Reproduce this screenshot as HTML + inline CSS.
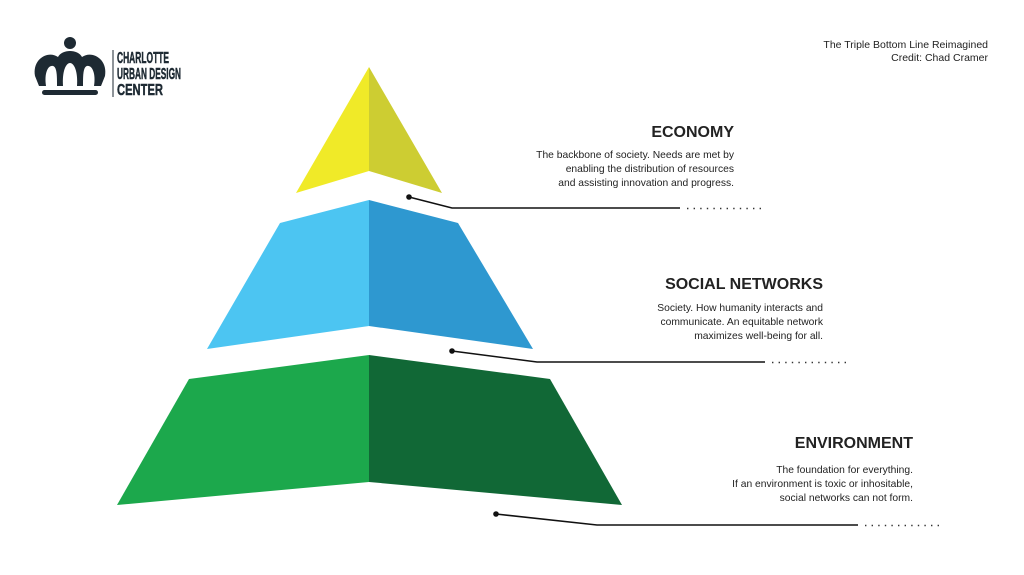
<!DOCTYPE html>
<html><head><meta charset="utf-8"><style>
html,body{margin:0;padding:0;background:#fff;}
svg{display:block;}
text{font-family:"Liberation Sans",sans-serif;fill:#222;}
.h{font-weight:bold;font-size:16px;}
.b{font-size:10.3px;}
.t{font-size:10.5px;}
.lg{font-family:"Liberation Sans Narrow","Liberation Sans",sans-serif;font-weight:bold;font-size:16px;fill:#1e2a33;stroke:#1e2a33;stroke-width:0.5;}
</style></head><body>
<svg width="1024" height="575" viewBox="0 0 1024 575" xmlns="http://www.w3.org/2000/svg">
<rect width="1024" height="575" fill="#fff"/>
<!-- logo -->
<circle cx="70" cy="43" r="6" fill="#1e2a33"/>
<path d="M35,76 C32,59 48,50 58,57 C62,49 78,49 82,57 C92,50 108,59 105,76 L101,86 L39,86 Z" fill="#1e2a33"/>
<path d="M63,86 C62,71 66,63 70,63 C74,63 78,71 77,86 Z" fill="#fff"/>
<path d="M46,86 C44,73 48,65 53,66 C57,67 57,76 57,86 Z" fill="#fff"/>
<path d="M94,86 C96,73 92,65 87,66 C83,67 83,76 83,86 Z" fill="#fff"/>
<rect x="42" y="90" width="56" height="5" rx="2.5" fill="#1e2a33"/>
<line x1="113" y1="50" x2="113" y2="97" stroke="#1e2a33" stroke-width="1"/>
<text class="lg" x="117" y="63" textLength="52" lengthAdjust="spacingAndGlyphs">CHARLOTTE</text>
<text class="lg" x="117" y="79" textLength="64" lengthAdjust="spacingAndGlyphs">URBAN DESIGN</text>
<text class="lg" x="117" y="95" textLength="46" lengthAdjust="spacingAndGlyphs">CENTER</text>
<!-- top right -->
<text class="t" x="988" y="48" text-anchor="end">The Triple Bottom Line Reimagined</text>
<text class="t" x="988" y="61" text-anchor="end">Credit: Chad Cramer</text>
<!-- pyramid -->
<polygon points="369,67 369,171 296,193" fill="#f0ea28"/>
<polygon points="369,67 442,193 369,171" fill="#cdcd32"/>
<polygon points="369,200 369,326 207,349 280,223" fill="#4cc5f2"/>
<polygon points="369,200 458,223 533,349 369,326" fill="#2e98d0"/>
<polygon points="369,355 369,482 117,505 189,379" fill="#1ca84c"/>
<polygon points="369,355 550,379 622,505 369,482" fill="#116836"/>
<!-- connectors -->
<g stroke="#111" stroke-width="1.6" fill="none">
<polyline points="409,197 452,208 680,208"/>
<polyline points="452,351 537,362 765,362"/>
<polyline points="496,514 597,525 858,525"/>
</g>
<g stroke="#333" stroke-width="1.4" stroke-dasharray="1.4,5.2" fill="none">
<line x1="687" y1="208.5" x2="766" y2="208.5"/>
<line x1="772" y1="362.5" x2="851" y2="362.5"/>
<line x1="865" y1="525.5" x2="944" y2="525.5"/>
</g>
<g fill="#111">
<circle cx="409" cy="197" r="2.8"/>
<circle cx="452" cy="351" r="2.8"/>
<circle cx="496" cy="514" r="2.8"/>
</g>
<!-- labels -->
<text class="h" x="734" y="137" text-anchor="end">ECONOMY</text>
<text class="b" x="734" y="158" text-anchor="end">The backbone of society. Needs are met by</text>
<text class="b" x="734" y="172" text-anchor="end">enabling the distribution of resources</text>
<text class="b" x="734" y="186" text-anchor="end">and assisting innovation and progress.</text>
<text class="h" x="823" y="289" text-anchor="end">SOCIAL NETWORKS</text>
<text class="b" x="823" y="311" text-anchor="end">Society. How humanity interacts and</text>
<text class="b" x="823" y="325" text-anchor="end">communicate. An equitable network</text>
<text class="b" x="823" y="339" text-anchor="end">maximizes well-being for all.</text>
<text class="h" x="913" y="448" text-anchor="end">ENVIRONMENT</text>
<text class="b" x="913" y="473" text-anchor="end">The foundation for everything.</text>
<text class="b" x="913" y="487" text-anchor="end">If an environment is toxic or inhositable,</text>
<text class="b" x="913" y="501" text-anchor="end">social networks can not form.</text>
</svg>
</body></html>
